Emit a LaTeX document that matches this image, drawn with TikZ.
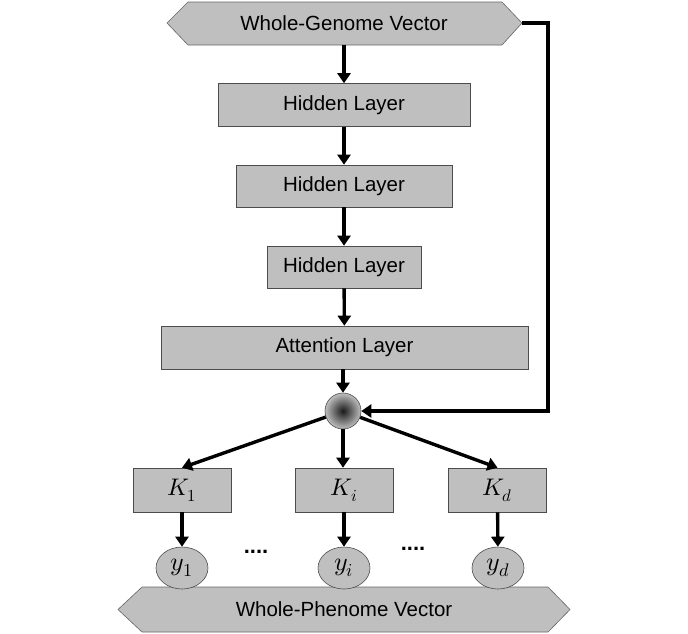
\documentclass[tikz,border=0pt]{standalone}
\usepackage{fontspec}
\setmainfont{Liberation Sans}
\usepackage{unicode-math}
\usetikzlibrary{arrows.meta,shapes.geometric}
\definecolor{boxgray}{HTML}{BFBFBF}
\begin{document}
\begin{tikzpicture}[x=1pt,y=-1pt,
  layerbox/.style={draw=black!70,fill=boxgray,line width=0.6pt,inner sep=0pt,font=\fontsize{20.5}{24}\selectfont},
  kbox/.style={draw=black!70,fill=boxgray,line width=0.6pt,minimum width=98pt,minimum height=44pt,inner sep=0pt,font=\fontsize{24}{28}\selectfont},
  ynode/.style={draw=black!70,fill=boxgray,line width=0.6pt,ellipse,minimum width=52pt,minimum height=42pt,inner sep=0pt,font=\fontsize{26}{30}\selectfont},
  hexfill/.style={draw=black!60,fill=boxgray,line width=0.6pt},
  conn/.style={line width=3.4pt,-{Triangle[length=10pt,width=13pt]}},
  lbl/.style={font=\fontsize{20.5}{24}\selectfont}
]
\useasboundingbox (0,0) rectangle (688,633);
% top hexagon
\draw[hexfill] (167,23) -- (188,2) -- (502,2) -- (522,23) -- (502,45) -- (188,45) -- cycle;
\node[lbl] (wgv) at (344,23.5) {Whole-Genome Vector};
\coordinate (gtip) at (522,23);
% hidden layers
\node[layerbox,minimum width=252pt,minimum height=43pt] (h1) at (344,105) {Hidden Layer};
\node[layerbox,minimum width=216pt,minimum height=42pt] (h2) at (344,186) {Hidden Layer};
\node[layerbox,minimum width=154pt,minimum height=42pt] (h3) at (344,267) {Hidden Layer};
\node[layerbox,minimum width=367pt,minimum height=43pt] (att) at (344.5,347.5) {Attention Layer};
% merge circle
\node[circle,draw=black!70,line width=0.6pt,minimum size=36pt,inner sep=0pt,shading=radial,inner color=black!90,outer color=black!25] (m) at (343,411) {};
% K boxes
\node[kbox] (k1) at (182,490) {$K_1$};
\node[kbox] (ki) at (344,490) {$K_i$};
\node[kbox] (kd) at (497.5,490) {$K_d$};
% bottom hexagon
\draw[hexfill] (118,609.5) -- (142,587) -- (548,587) -- (570,609.5) -- (548,632) -- (142,632) -- cycle;
\node[lbl] (wpv) at (344,609.5) {Whole-Phenome Vector};
% y nodes
\node[ynode] (y1) at (182,568) {$y_1$};
\node[ynode] (yi) at (344,568) {$y_i$};
\node[ynode] (yd) at (498,568) {$y_d$};
% dots
\node[font=\fontsize{22}{24}\selectfont\bfseries] (d1) at (256,552) {....};
\node[font=\fontsize{22}{24}\selectfont\bfseries] (d2) at (413,549) {....};
% connectors
\draw[conn] (344,45) -- (h1.north);
\draw[conn] (h1) -- (h2);
\draw[conn] (h2) -- (h3);
\draw[conn] (h3) -- (att);
\draw[conn] (att.south -| m) -- (m.north);
\draw[conn] (gtip) -- (548,23) -- (548,411) -- (m.east);
\draw[conn] (m) -- (k1.north);
\draw[conn] (m.south) -- (m.south |- ki.north);
\draw[conn] (m) -- (kd.north);
\draw[conn] (k1) -- (y1);
\draw[conn] (ki) -- (yi);
\draw[conn] (kd) -- (yd);
\end{tikzpicture}
\end{document}
